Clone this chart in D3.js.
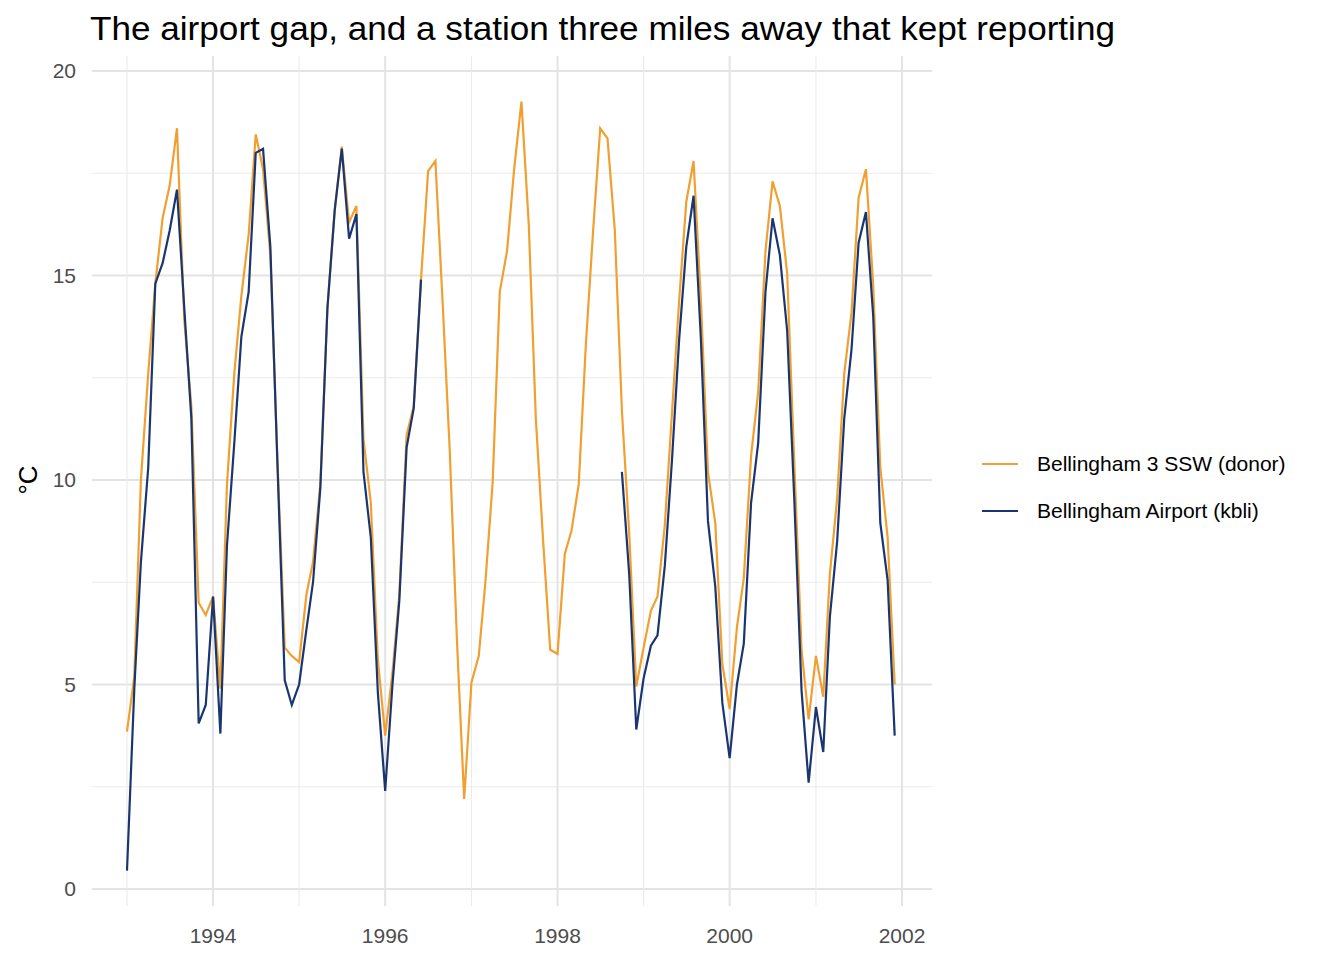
<!DOCTYPE html>
<html><head><meta charset="utf-8">
<script src="https://cdn.jsdelivr.net/npm/d3@7"></script>
<style>body{margin:0;background:#fff;font-family:"Liberation Sans",Arial,sans-serif}</style>
</head><body><svg id="c" width="1344" height="960"></svg>
<script>
const startYear = 1993;
const donor = [3.85,5.2,10.0,12.6,14.8,16.4,17.2,18.6,13.9,11.8,7.0,6.7,
 7.15,4.9,9.9,12.6,14.5,16.0,18.45,17.6,15.5,10.5,5.9,5.7,
 5.55,7.2,8.0,9.9,14.2,16.6,18.15,16.3,16.7,11.0,9.45,5.6,
 3.75,5.3,7.2,11.1,11.8,14.9,17.55,17.8,14.3,10.7,6.0,2.2,
 5.05,5.7,7.5,9.95,14.6,15.6,17.6,19.25,16.25,11.5,8.5,5.85,
 5.75,8.2,8.75,9.9,13.3,16.1,18.6,18.35,16.1,11.7,8.7,4.95,
 5.9,6.8,7.15,8.9,11.6,14.4,16.8,17.8,14.4,10.2,8.95,5.5,
 4.4,6.4,7.6,10.6,12.15,15.6,17.3,16.7,15.05,10.45,5.85,4.15,
 5.7,4.7,7.7,9.55,12.6,14.1,16.9,17.6,14.75,10.3,8.6,5.0];
const airport = [0.45,4.9,8.0,10.3,14.8,15.3,16.1,17.1,14.2,11.5,4.05,4.5,
 7.15,3.8,8.4,10.9,13.5,14.6,18.0,18.1,15.7,10.4,5.1,4.5,
 5.0,6.35,7.5,9.8,14.2,16.6,18.1,15.9,16.5,10.2,8.6,4.8,
 2.4,5.0,7.05,10.8,11.75,14.9,null,null,null,null,null,null,
 null,null,null,null,null,null,null,null,null,null,null,null,
 null,null,null,null,null,null,null,null,null,10.2,7.7,3.9,
 5.15,5.95,6.2,7.9,10.45,13.45,15.7,16.95,13.45,9.0,7.4,4.55,
 3.2,5.0,6.0,9.45,10.9,14.6,16.4,15.5,13.65,9.55,4.85,2.6,
 4.45,3.35,6.65,8.5,11.5,13.2,15.8,16.55,14.0,8.95,7.55,3.75];
const seriesNames = ["Bellingham 3 SSW (donor)","Bellingham Airport (kbli)"];
const colors = ["#f0a030","#1a3670"];
const yTicks = [0,5,10,15,20];
const xTickYears = [1994,1996,1998,2000,2002];
const xMinorYears = [1993,1995,1997,1999,2001];

const svg = d3.select("#c");
const date = i => new Date(startYear + Math.floor(i/12), i%12, 1);
const x = d3.scaleTime().domain([new Date(1993,0,1), new Date(2002,0,1)]).range([127,902]);
const y = d3.scaleLinear().domain([0,20]).range([889,71]);
const L=92,R=932,T=56,B=906;
const g = svg.append("g");
[2.5,7.5,12.5,17.5].forEach(v=>g.append("line").attr("x1",L).attr("x2",R).attr("y1",y(v)).attr("y2",y(v)).attr("stroke","#ebebeb").attr("stroke-width",1.1));
yTicks.forEach(v=>g.append("line").attr("x1",L).attr("x2",R).attr("y1",y(v)).attr("y2",y(v)).attr("stroke","#e3e3e3").attr("stroke-width",2));
xMinorYears.forEach(v=>{const X=x(new Date(v,0,1));g.append("line").attr("x1",X).attr("x2",X).attr("y1",T).attr("y2",B).attr("stroke","#ebebeb").attr("stroke-width",1.1);});
xTickYears.forEach(v=>{const X=x(new Date(v,0,1));g.append("line").attr("x1",X).attr("x2",X).attr("y1",T).attr("y2",B).attr("stroke","#e3e3e3").attr("stroke-width",2);});
yTicks.forEach(v=>svg.append("text").attr("x",76).attr("y",y(v)+7).attr("text-anchor","end").attr("font-size",21).attr("fill","#4d4d4d").text(v));
xTickYears.forEach(v=>svg.append("text").attr("x",x(new Date(v,0,1))).attr("y",943).attr("text-anchor","middle").attr("font-size",21).attr("fill","#4d4d4d").text(v));
svg.append("text").attr("transform","translate(37,480) rotate(-90)").attr("text-anchor","middle").attr("font-size",26).attr("fill","#000").text("°C");
svg.append("text").attr("x",90).attr("y",40).attr("font-size",33).attr("fill","#000").attr("textLength",1025).attr("lengthAdjust","spacingAndGlyphs").text("The airport gap, and a station three miles away that kept reporting");
const line = d3.line().defined(d=>d!=null).x((d,i)=>x(date(i))).y(d=>y(d));
[donor,airport].forEach((s,k)=>svg.append("path").attr("d",line(s)).attr("fill","none").attr("stroke",colors[k]).attr("stroke-width",2.2));
seriesNames.forEach((n,k)=>{const Y=464+k*47;
 svg.append("line").attr("x1",982).attr("x2",1018).attr("y1",Y).attr("y2",Y).attr("stroke",colors[k]).attr("stroke-width",2.2);
 svg.append("text").attr("x",1037).attr("y",Y+7).attr("font-size",21).attr("fill","#000").text(n);});
</script></body></html>
